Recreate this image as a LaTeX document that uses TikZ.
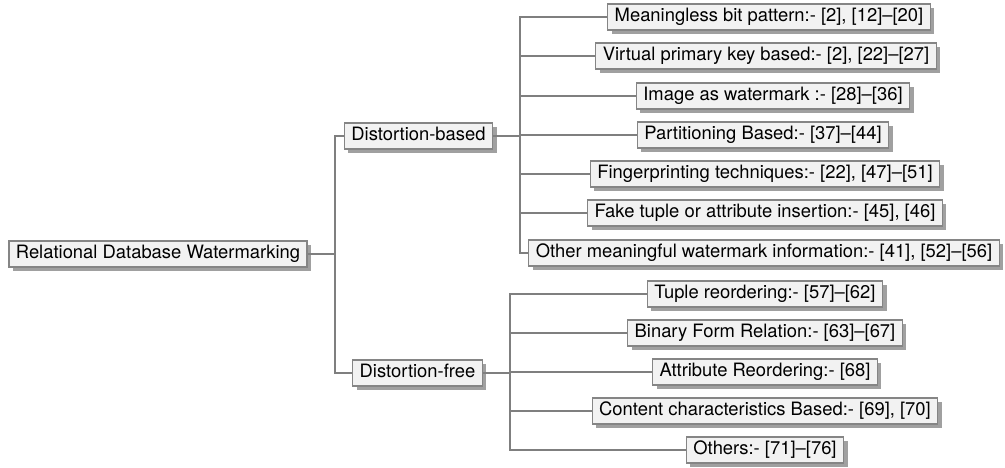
\documentclass[tikz,border=0pt]{standalone}
\usepackage{fontspec}
\setmainfont{TeX Gyre Heros}
\usetikzlibrary{shadows}
\definecolor{linegray}{HTML}{7F7F7F}
\definecolor{boxfill}{HTML}{F2F2F2}
\definecolor{boxdraw}{HTML}{858585}
\definecolor{shadowgray}{HTML}{A0A0A0}
\begin{document}
\begin{tikzpicture}[x=1pt,y=-1pt,
  box/.style={draw=boxdraw, line width=1.2pt, fill=boxfill,
    font=\fontsize{18.4}{20}\selectfont, minimum height=26pt,
    inner xsep=7pt, inner ysep=0pt, text height=13.5pt, text depth=4pt,
    drop shadow={shadow xshift=4pt, shadow yshift=-4pt, fill=shadowgray, opacity=1}},
  conn/.style={draw=linegray, line width=2pt}]
\useasboundingbox (0,0) rectangle (1005,468);
\node[box] (root) at (158,254) {Relational Database Watermarking};
\node[box] (db) at (418.5,136) {Distortion-based};
\node[box] (df) at (417.5,373) {Distortion-free};
\node[box] (a1) at (769,17) {Meaningless bit pattern:- [2], [12]--[20]};
\node[box] (a2) at (766,56) {Virtual primary key based:- [2], [22]--[27]};
\node[box] (a3) at (773,96) {Image as watermark :- [28]--[36]};
\node[box] (a4) at (763,135) {Partitioning Based:- [37]--[44]};
\node[box] (a5) at (765,174) {Fingerprinting techniques:- [22], [47]--[51]};
\node[box] (a6) at (765,213) {Fake tuple or attribute insertion:- [45], [46]};
\node[box] (a7) at (764,253) {Other meaningful watermark information:- [41], [52]--[56]};
\node[box] (b1) at (765,294) {Tuple reordering:- [57]--[62]};
\node[box] (b2) at (765,333) {Binary Form Relation:- [63]--[67]};
\node[box] (b3) at (765,372) {Attribute Reordering:- [68]};
\node[box] (b4) at (765,411) {Content characteristics Based:- [69], [70]};
\node[box] (b5) at (765,450) {Others:- [71]--[76]};
\coordinate (t0) at (335,254);
\coordinate (t1) at (520,136);
\coordinate (t2) at (510,373);
\draw[conn] (root) -- (t0);
\draw[conn] (t0) |- (db);
\draw[conn] (t0) |- (df);
\draw[conn] (db) -- (t1);
\foreach \n in {a1,a2,a3,a4,a5,a6,a7} \draw[conn] (t1) |- (\n);
\draw[conn] (df) -- (t2);
\foreach \n in {b1,b2,b3,b4,b5} \draw[conn] (t2) |- (\n);
\end{tikzpicture}
\end{document}
